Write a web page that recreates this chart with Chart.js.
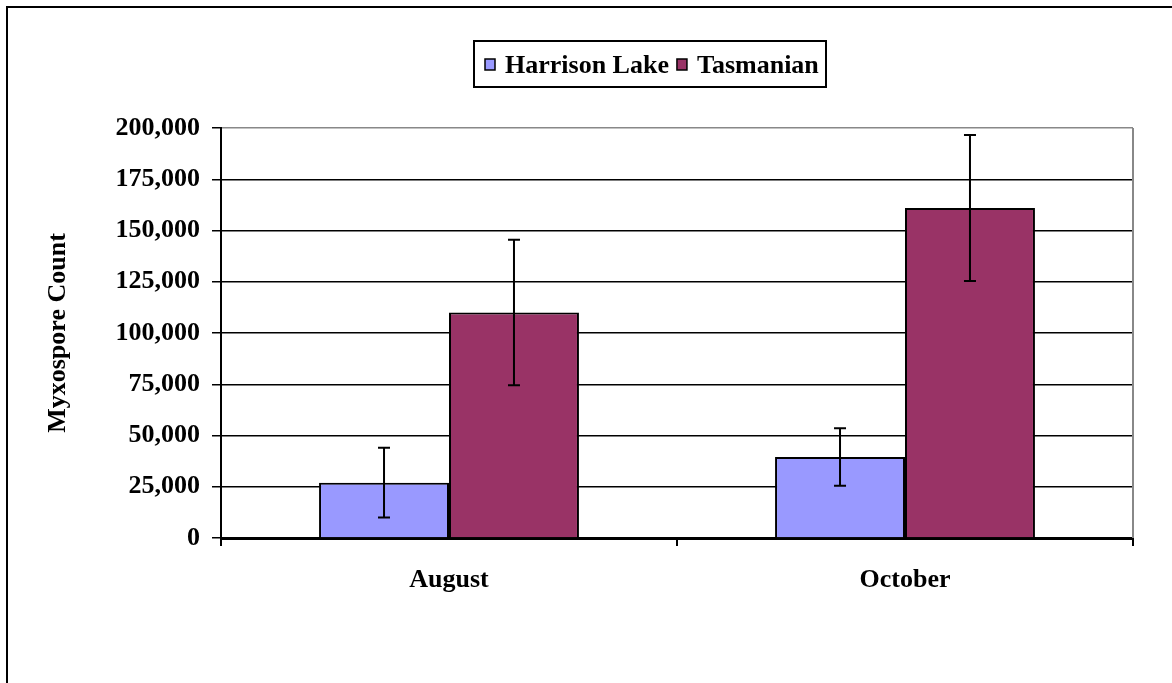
<!DOCTYPE html>
<html>
<head>
<meta charset="utf-8">
<script src="https://cdn.jsdelivr.net/npm/chart.js@4/dist/chart.umd.min.js"></script>
<style>
  html, body { margin: 0; padding: 0; background: #fff; }
  #wrap { width: 1172px; height: 683px; position: relative; }
</style>
</head>
<body>
<div id="wrap"><canvas id="c" width="1172" height="683"></canvas></div>
<script>
const categories = ['August', 'October'];
const seriesNames = ['Harrison Lake', 'Tasmanian'];
const harrisonValues = [27000, 39500];
const tasmanianValues = [110000, 161000];
const harrisonErrors = [17000, 14000];
const tasmanianErrors = [35500, 35600];
const yTicks = [0, 25000, 50000, 75000, 100000, 125000, 150000, 175000, 200000];
const yTitle = 'Myxospore Count';

const FONT = "'Liberation Serif', 'Times New Roman', serif";

const errorBarPlugin = {
  id: 'errorBars',
  afterDatasetsDraw(chart) {
    const ctx = chart.ctx;
    const y = chart.scales.y;
    ctx.save();
    ctx.strokeStyle = '#000';
    ctx.lineWidth = 2;
    chart.data.datasets.forEach((ds, di) => {
      const meta = chart.getDatasetMeta(di);
      meta.data.forEach((bar, i) => {
        const v = ds.data[i], e = ds.errors[i];
        const yt = y.getPixelForValue(v + e), yb = y.getPixelForValue(v - e);
        const x = bar.x, cap = 6;
        ctx.beginPath();
        ctx.moveTo(x, yt); ctx.lineTo(x, yb);
        ctx.moveTo(x - cap, yt); ctx.lineTo(x + cap, yt);
        ctx.moveTo(x - cap, yb); ctx.lineTo(x + cap, yb);
        ctx.stroke();
      });
    });
    ctx.restore();
  }
};

const framePlugin = {
  id: 'frame',
  beforeDatasetsDraw(chart) {
    const ctx = chart.ctx, a = chart.chartArea;
    ctx.save();
    ctx.strokeStyle = '#888';
    ctx.lineWidth = 2;
    ctx.beginPath();
    ctx.moveTo(a.right, a.top); ctx.lineTo(a.right, a.bottom);
    ctx.stroke();
    ctx.restore();
  },
  afterDraw(chart) {
    const ctx = chart.ctx;
    ctx.save();
    // outer border (top and left)
    ctx.strokeStyle = '#000';
    ctx.lineWidth = 2;
    ctx.beginPath();
    ctx.moveTo(7, 683); ctx.lineTo(7, 7); ctx.lineTo(1172, 7);
    ctx.stroke();
    // legend
    ctx.font = 'bold 26px ' + FONT;
    ctx.textBaseline = 'alphabetic';
    const boxX = 474, boxY = 41, boxW = 352, boxH = 46;
    let x = boxX + 11;
    const items = chart.data.datasets.map(ds => ({label: ds.label, color: ds.backgroundColor}));
    const parts = [];
    items.forEach((it) => {
      const p = {x: x, it: it};
      x += 20;
      p.tx = x;
      x += ctx.measureText(it.label).width + 8;
      parts.push(p);
    });
    ctx.lineWidth = 2;
    ctx.strokeStyle = '#000';
    ctx.strokeRect(boxX, boxY, boxW, boxH);
    parts.forEach(p => {
      ctx.fillStyle = p.it.color;
      ctx.fillRect(p.x, 59, 10, 11);
      ctx.lineWidth = 1.5;
      ctx.strokeRect(p.x, 59, 10, 11);
      ctx.fillStyle = '#000';
      ctx.fillText(p.it.label, p.tx, 73);
    });
    ctx.restore();
  }
};

new Chart(document.getElementById('c'), {
  type: 'bar',
  data: {
    labels: categories,
    datasets: [
      { label: seriesNames[0], data: harrisonValues, errors: harrisonErrors,
        backgroundColor: '#9999FF', borderColor: '#000', borderWidth: 2 },
      { label: seriesNames[1], data: tasmanianValues, errors: tasmanianErrors,
        backgroundColor: '#993366', borderColor: '#000', borderWidth: 2 }
    ]
  },
  options: {
    responsive: false,
    animation: false,
    events: [],
    layout: { padding: { top: 128, right: 39, bottom: 0, left: 0 } },
    datasets: { bar: { categoryPercentage: 0.57, barPercentage: 1.0 } },
    plugins: { legend: { display: false }, tooltip: { enabled: false } },
    scales: {
      x: {
        afterFit(s) { s.height = 145; },
        grid: { display: true, drawOnChartArea: false, drawTicks: true, tickLength: 8, color: '#000', lineWidth: 2, offset: true },
        border: { color: '#000', width: 3 },
        ticks: { color: '#000', padding: 19, font: { family: FONT, size: 26, weight: 'bold' } }
      },
      y: {
        min: 0, max: 200000,
        afterFit(s) { s.width = 221; },
        afterBuildTicks(s) { s.ticks = yTicks.map(v => ({ value: v })); },
        grid: {
          color: (c) => (c.tick && c.tick.value === 200000) ? '#888' : '#000',
          tickColor: '#000',
          lineWidth: 1.5, tickLength: 9, drawTicks: true
        },
        border: { color: '#000', width: 2 },
        ticks: {
          color: '#000', padding: 12,
          font: { family: FONT, size: 26, weight: 'bold' },
          callback: (v) => v.toLocaleString('en-US')
        },
        title: {
          display: true, text: yTitle, color: '#000',
          padding: { top: 43, bottom: 0 },
          font: { family: FONT, size: 26, weight: 'bold' }
        }
      }
    }
  },
  plugins: [errorBarPlugin, framePlugin]
});
</script>
</body>
</html>
